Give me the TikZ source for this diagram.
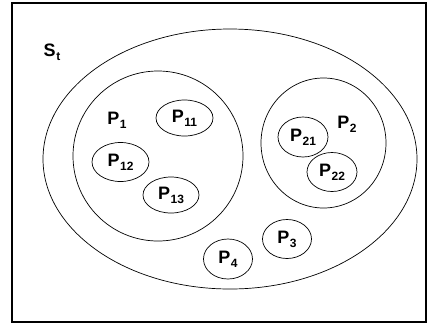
\documentclass[tikz,border=0pt]{standalone}
\usepackage{fontspec}
\setmainfont{Liberation Sans}
\usetikzlibrary{shapes.geometric}

\tikzset{
  part/.style={draw,ellipse,inner sep=0pt,line width=0.7pt},
  lbl/.style={font=\fontsize{18}{20}\selectfont\bfseries,inner sep=0pt}
}
\newcommand{\Ps}[2][P]{#1\kern0.5pt\raisebox{-4pt}{\fontsize{12}{13}\selectfont #2}}

\begin{document}
\begin{tikzpicture}[x=1pt,y=-1pt]
  \useasboundingbox (0,0) rectangle (428,325);
  \draw[line width=1.6pt] (12,3) rectangle (426,322);
  \node[lbl] (st) at (52,52) {\Ps[S]{t}};

  % outer set and the two big blocks
  \node[part,minimum width=374pt,minimum height=260pt] (whole) at (230,159) {};
  \node[part,minimum width=170pt,minimum height=170pt] (p1) at (158,156) {};
  \node[part,minimum width=125pt,minimum height=130pt] (p2) at (323.5,143) {};
  \node[lbl] (p1lbl) at (117,120) {\Ps{1}};
  \node[lbl] (p2lbl) at (347,124) {\Ps{2}};

  % small blocks
  \node[part,minimum width=57pt,minimum height=36pt,lbl] (p11) at (184.5,118) {\Ps{11}};
  \node[part,minimum width=57pt,minimum height=39pt,lbl] (p12) at (120.5,162) {\Ps{12}};
  \node[part,minimum width=56pt,minimum height=36pt,lbl] (p13) at (171,195) {\Ps{13}};
  \node[part,minimum width=50pt,minimum height=40pt,lbl] (p21) at (303,137) {\Ps{21}};
  \node[part,minimum width=50pt,minimum height=39pt,lbl] (p22) at (332,172) {\Ps{22}};
  \node[part,minimum width=49pt,minimum height=39pt,lbl] (p3) at (287,239) {\Ps{3}};
  \node[part,minimum width=49pt,minimum height=40pt,lbl] (p4) at (228,259) {\Ps{4}};
\end{tikzpicture}
\end{document}
